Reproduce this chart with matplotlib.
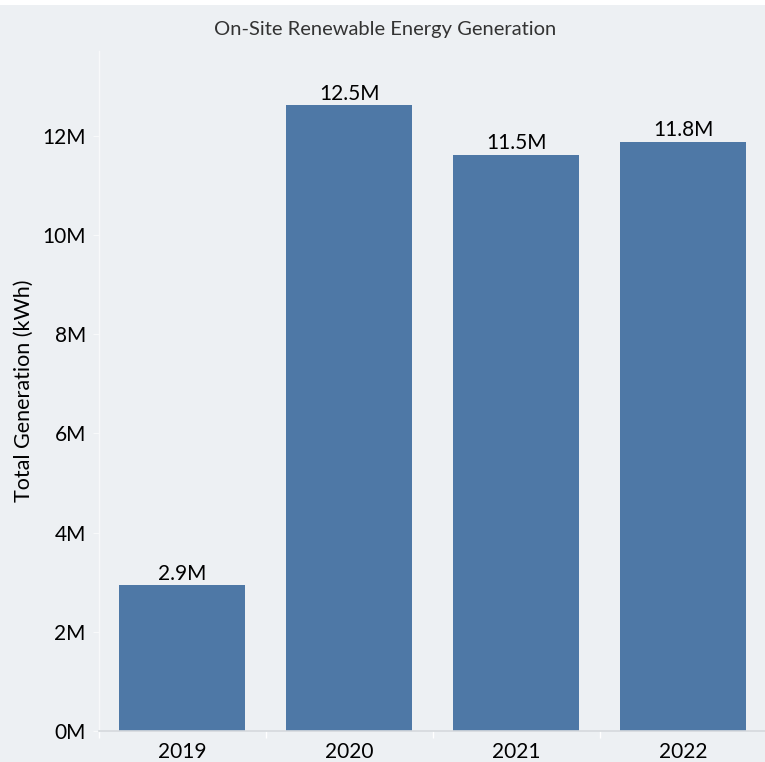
import matplotlib
matplotlib.use("Agg")
import matplotlib.pyplot as plt
import matplotlib.patches as patches
from matplotlib.ticker import FuncFormatter, FixedLocator

years = ["2019", "2020", "2021", "2022"]
generation_m = [2.94, 12.62, 11.62, 11.88]  # millions of kWh
bar_labels = ["2.9M", "12.5M", "11.5M", "11.8M"]

bg = "#edf0f3"
bar_color = "#4e78a6"

plt.rcParams["font.family"] = ["Lato", "DejaVu Sans"]

fig = plt.figure(figsize=(7.65, 7.62), dpi=100, facecolor=bg)
ax = fig.add_axes([0.1294, 0.0407, 0.8725, 0.893])
ax.set_facecolor(bg)

x = list(range(len(years)))
ax.bar(x, generation_m, width=0.755, color=bar_color, zorder=2)

for xi, v, lab in zip(x, generation_m, bar_labels):
    ax.text(xi, v + 0.03, lab, ha="center", va="bottom", fontsize=15, color="black")

ax.set_xlim(-0.5, 3.5)
ax.set_ylim(0, 13.72)

ax.set_yticks([0, 2, 4, 6, 8, 10, 12])
ax.yaxis.set_major_formatter(FuncFormatter(lambda v, p: f"{int(v)}M"))
ax.tick_params(axis="y", length=4.5, color="#f8f9fa", labelsize=15, pad=5, labelcolor="black")

ax.set_xticks(x)
ax.set_xticklabels(years)
ax.xaxis.set_minor_locator(FixedLocator([-0.5, 0.5, 1.5, 2.5, 3.5]))
ax.tick_params(axis="x", which="major", length=0, labelsize=15, pad=8, labelcolor="black")
ax.tick_params(axis="x", which="minor", length=5, color="white", width=1)

for s in ["top", "right"]:
    ax.spines[s].set_visible(False)
ax.spines["left"].set_color("#f8f9fa")
ax.spines["bottom"].set_color("#d5d9dd")
ax.spines["left"].set_linewidth(1)
ax.spines["bottom"].set_linewidth(1.2)

ax.set_ylabel("Total Generation (kWh)", fontsize=15.5, color="black", labelpad=6)
fig.text(0.503, 0.961, "On-Site Renewable Energy Generation", ha="center", va="center",
         fontsize=14.5, color="#333333")

# thin white strip along the top edge
fig.patches.append(patches.Rectangle((0, 1 - 5 / 762), 1, 5 / 762, transform=fig.transFigure,
                                     facecolor="white", edgecolor="none", zorder=0))

fig.savefig("out.png", dpi=100, facecolor=bg)
